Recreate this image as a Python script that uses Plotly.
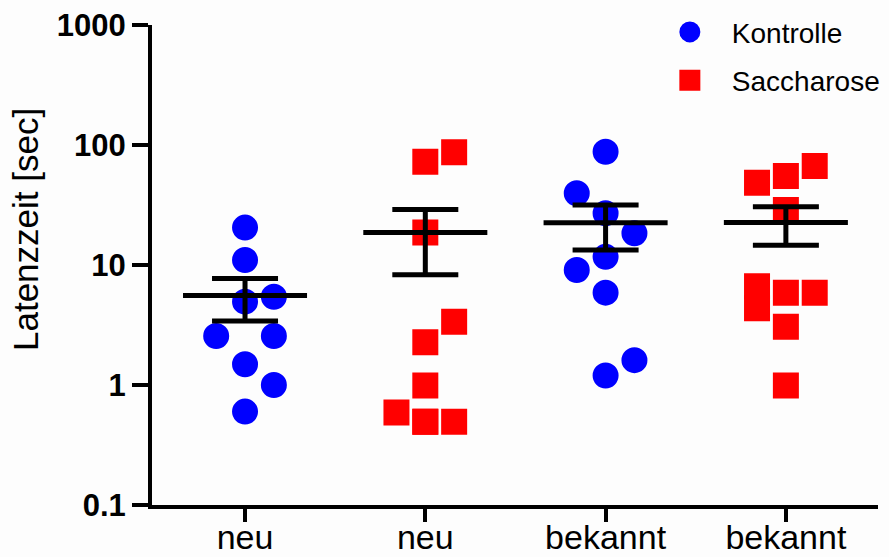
import plotly.graph_objects as go
import numpy as np

# ---------------- data ----------------
categories = ["neu", "neu", "bekannt", "bekannt"]
groups = ["Kontrolle", "Saccharose", "Kontrolle", "Saccharose"]

kontrolle_neu = [20.5, 11.0, 4.95, 5.44, 2.56, 2.56, 1.49, 1.0, 0.60]
saccharose_neu = [72.6, 86.9, 18.7, 3.37, 2.27, 0.99, 0.59, 0.495, 0.495, 0.495]
kontrolle_bekannt = [87.9, 39.6, 27.0, 18.4, 11.7, 9.08, 5.88, 1.61, 1.20]
saccharose_bekannt = [48.5, 55.2, 66.8, 28.7, 6.64, 4.36, 5.88, 5.88, 3.06, 0.99]

# beeswarm column of each point (-1 left, 0 centre, 1 right)
cols_kontrolle_neu = [0, 0, 0, 1, -1, 1, 0, 1, 0]
cols_saccharose_neu = [0, 1, 0, 1, 0, 0, -1, 0, 1, 0]
cols_kontrolle_bekannt = [0, -1, 0, 1, 0, -1, 0, 1, 0]
cols_saccharose_bekannt = [-1, 0, 1, 0, -1, -1, 0, 1, 0, 0]

y_tickvals = [0.1, 1, 10, 100, 1000]
y_ticktext = ["0.1", "1", "10", "100", "1000"]

series = [kontrolle_neu, saccharose_neu, kontrolle_bekannt, saccharose_bekannt]
columns = [cols_kontrolle_neu, cols_saccharose_neu, cols_kontrolle_bekannt, cols_saccharose_bekannt]

# ---------------- styles ----------------
COL_STEP = 0.16
MEAN_HALF = 0.344
styles = {
    "Kontrolle": dict(color="#0000ff", symbol="circle"),
    "Saccharose": dict(color="#ff0000", symbol="square"),
}

fig = go.Figure()
shown = set()
for i, (vals, cols, grp) in enumerate(zip(series, columns, groups)):
    st = styles[grp]
    fig.add_trace(go.Scatter(
        x=[i + c * COL_STEP for c in cols], y=vals, mode="markers",
        name=grp, legendgroup=grp, showlegend=grp not in shown,
        marker=dict(color=st["color"], symbol=st["symbol"], size=21,
                    line=dict(color=st["color"], width=5)),
    ))
    shown.add(grp)

means = [float(np.mean(v)) for v in series]
sems = [float(np.std(v, ddof=1) / np.sqrt(len(v))) for v in series]

# error bars (SEM)
fig.add_trace(go.Scatter(
    x=list(range(len(series))), y=means, mode="markers",
    marker=dict(size=1, color="rgba(0,0,0,0)"), showlegend=False,
    error_y=dict(type="data", array=sems, symmetric=True, color="black",
                 thickness=5, width=33),
))
# mean lines
mx, my = [], []
for i, m in enumerate(means):
    mx += [i - MEAN_HALF, i + MEAN_HALF, None]
    my += [m, m, None]
fig.add_trace(go.Scatter(x=mx, y=my, mode="lines", showlegend=False,
                         line=dict(color="black", width=5)))

fig.update_layout(
    width=889, height=557,
    margin=dict(l=152, r=11, t=25, b=52, autoexpand=False),
    paper_bgcolor="#fdfdfd", plot_bgcolor="#fdfdfd",
    font=dict(family="Liberation Sans, Arial, sans-serif", color="black"),
    legend=dict(x=0.683, y=1.037, xanchor="left", yanchor="top",
                font=dict(size=28), itemwidth=74, bgcolor="rgba(0,0,0,0)",
                traceorder="grouped", tracegroupgap=9),
    xaxis=dict(range=[-0.516, 3.511], tickvals=list(range(len(categories))),
               ticktext=categories, showline=True, linewidth=4, linecolor="black",
               ticks="outside", ticklen=13, tickwidth=4, tickcolor="black",
               showgrid=False, zeroline=False, automargin=False,
               ticklabelstandoff=-14,
               tickfont=dict(size=34)),
    yaxis=dict(type="log", range=[-1, 3], tickvals=y_tickvals, ticktext=y_ticktext,
               showline=True, linewidth=4, linecolor="black",
               ticks="outside", ticklen=16, tickwidth=4, tickcolor="black",
               showgrid=False, zeroline=False, automargin=False,
               tickfont=dict(size=31, weight="bold")),
    annotations=[dict(text="Latenzzeit [sec]", textangle=-90, showarrow=False,
                      xref="paper", yref="paper", x=-0.1735, y=0.573,
                      xanchor="center", yanchor="middle", font=dict(size=35))],
)

fig.write_html("out.html")
